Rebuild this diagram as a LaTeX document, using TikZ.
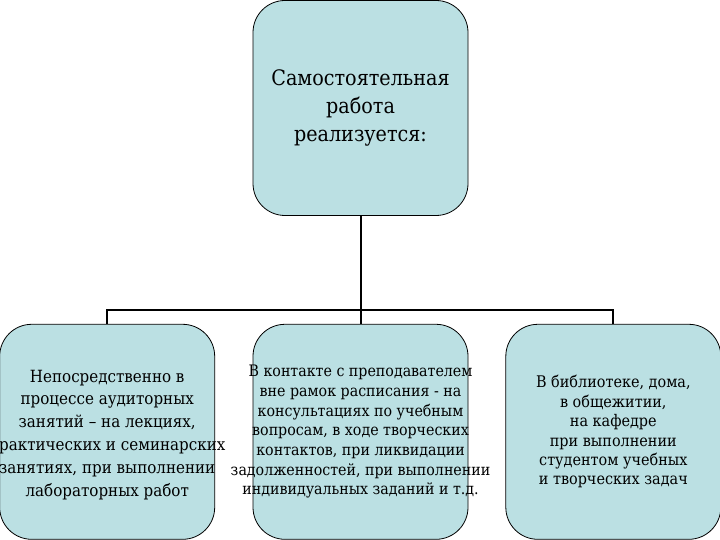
\documentclass[tikz,border=0pt]{standalone}
\usepackage{fontspec}
\setmainfont{DejaVu Serif Condensed}
\newfontfamily\boxfont{DejaVu Serif Condensed}
\usetikzlibrary{positioning}
\definecolor{box_blue}{RGB}{187,224,227}

\begin{document}
\begin{tikzpicture}[x=1bp,y=1bp,
    block/.style={draw=black, line width=0.8bp, fill=box_blue,
      rounded corners=32bp, minimum width=215bp, minimum height=215bp,
      inner sep=0pt},
    blocktext/.style={align=center, inner sep=0pt, text=black},
    link/.style={draw=black, line width=2bp},
  ]
  \useasboundingbox (0,0) rectangle (720,540);
  % boxes
  \node[block] (root) at (360.5,432) {};
  \node[block, below=108bp of root] (mid) {};
  \node[block, left=37.5bp of mid] (left) {};
  \node[block, right=37bp of mid] (right) {};
  % connectors
  \coordinate (fork) at (360.5,230);
  \draw[link] (root.south) -- (fork);
  \draw[link] (left.north) |- (fork) -| (right.north);
  \draw[link] (fork) -- (mid.north);
  % texts
  \node[blocktext, font=\boxfont\fontsize{21.3bp}{28bp}\selectfont] (roottext) at (root)
    {Самостоятельная\\работа\\реализуется:};
  \node[blocktext, font=\boxfont\fontsize{16.8bp}{22.8bp}\selectfont] (lefttext)
    at ([yshift=-3bp]left.center)
    {Непосредственно в\\процессе аудиторных\\занятий – на лекциях,\\практических и семинарских\\занятиях, при выполнении\\лабораторных работ};
  \node[blocktext, font=\boxfont\fontsize{15.8bp}{19.7bp}\selectfont] (midtext) at (mid)
    {В контакте с преподавателем\\вне рамок расписания - на\\консультациях по учебным\\вопросам, в ходе творческих\\контактов, при ликвидации\\задолженностей, при выполнении\\индивидуальных заданий и т.д.};
  \node[blocktext, font=\boxfont\fontsize{16bp}{19.4bp}\selectfont] (righttext) at (right)
    {В библиотеке, дома,\\в общежитии,\\на кафедре\\при выполнении\\студентом учебных\\и творческих задач};
\end{tikzpicture}
\end{document}
